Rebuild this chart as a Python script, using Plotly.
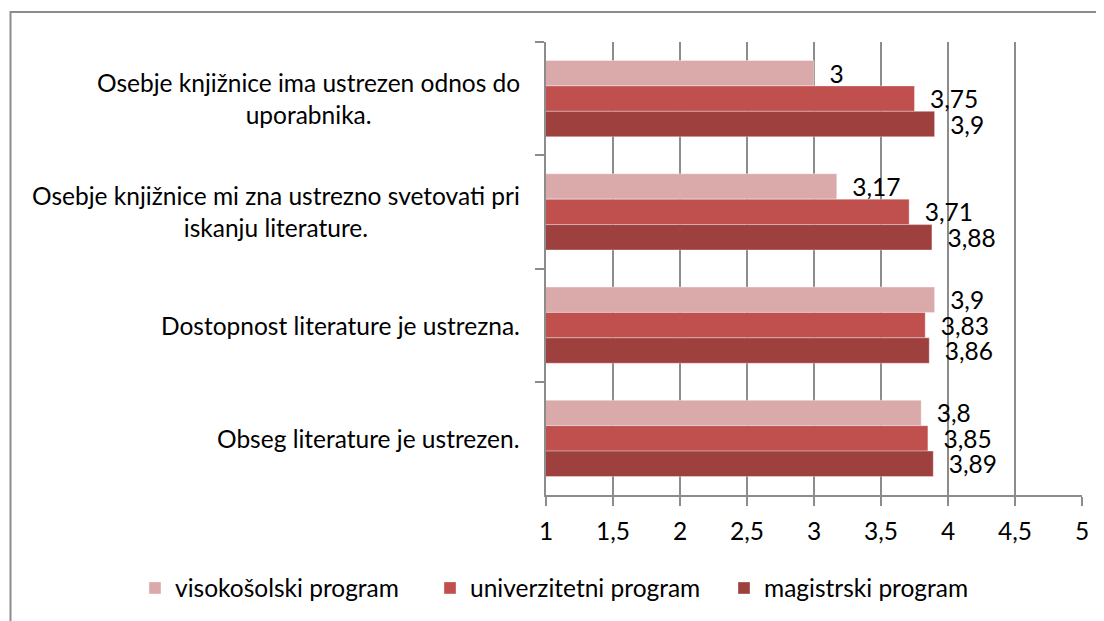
import plotly.graph_objects as go

categories = [
    "Osebje knjižnice ima ustrezen odnos do<br>uporabnika.",
    "Osebje knjižnice mi zna ustrezno svetovati pri<br>iskanju literature.",
    "Dostopnost literature je ustrezna.",
    "Obseg literature je ustrezen.",
]
series_names = ["visokošolski program", "univerzitetni program", "magistrski program"]
visokosolski = [3, 3.17, 3.9, 3.8]
univerzitetni = [3.75, 3.71, 3.83, 3.85]
magistrski = [3.9, 3.88, 3.86, 3.89]
x_ticks = [1, 1.5, 2, 2.5, 3, 3.5, 4, 4.5, 5]

colors = ["#D9AAA9", "#C0504D", "#9D403E"]
FONT = "Lato"
FS = 24.5
GRID = "#8C8C8C"

# page body has an 8px margin: work in page pixels, convert to figure pixels
OFF = 8
W, H = 1104 - OFF, 621 - OFF
PL, PR, PT, PB = 546, 1082, 42, 495  # plot area in page pixels
ML, MT = PL - OFF, PT - OFF
MR, MB = W - (PR - OFF), H - (PB - OFF)
PW, PH = PR - PL, PB - PT


def px_x(p):
    return (p - PL) / PW


def px_y(p):
    return (PB - p) / PH


def fmt(v):
    s = ("%g" % v).replace(".", ",")
    return "\u00a0\u00a0" + s


legend_keys = ["legend", "legend2", "legend3"]
legend_left = [135, 430, 724]

fig = go.Figure()
for name, vals, col, lk in zip(series_names, [visokosolski, univerzitetni, magistrski], colors, legend_keys):
    fig.add_trace(go.Bar(
        y=categories, x=vals, orientation="h", name=name, legend=lk,
        marker=dict(color=col, line=dict(color="rgba(255,255,255,0.35)", width=1)),
        text=[fmt(v) for v in vals], textposition="outside",
        textfont=dict(family=FONT, size=FS, color="black"),
        constraintext="none", cliponaxis=False,
    ))

annotations = []
for c in categories:
    annotations.append(dict(
        xref="paper", yref="y", x=px_x(522), y=c, text=c, showarrow=False,
        xanchor="right", yanchor="middle", align="center",
        font=dict(family=FONT, size=FS, color="black"),
    ))

legends = {}
for lk, lx in zip(legend_keys, legend_left):
    legends[lk] = dict(
        orientation="h", xanchor="left", x=px_x(lx), yanchor="middle", y=px_y(588),
        font=dict(family=FONT, size=FS, color="black"), bgcolor="rgba(0,0,0,0)",
    )

fig.update_layout(
    width=W, height=H,
    margin=dict(l=ML, r=MR, t=MT, b=MB, autoexpand=False),
    paper_bgcolor="white", plot_bgcolor="white",
    separators=",.",
    barmode="group", bargap=0.327, bargroupgap=0,
    font=dict(family=FONT, size=FS, color="black"),
    xaxis=dict(
        range=[1, 5], tickvals=x_ticks, showgrid=True, gridcolor=GRID, gridwidth=1.5,
        showline=True, linecolor=GRID, linewidth=1.5,
        ticks="outside", ticklen=9, tickcolor=GRID, tickwidth=1.5,
        ticklabelstandoff=5, zeroline=False,
        tickfont=dict(family=FONT, size=FS, color="black"),
    ),
    yaxis=dict(
        autorange="reversed", showticklabels=False, showgrid=False,
        showline=True, linecolor=GRID, linewidth=1.5,
        ticks="outside", ticklen=9, tickcolor=GRID, tickwidth=1.5,
        tickson="boundaries",
    ),
    showlegend=True,
    annotations=annotations,
    shapes=[dict(
        type="rect", xref="paper", yref="paper",
        x0=px_x(10.5), x1=px_x(1130), y0=px_y(650), y1=px_y(12),
        line=dict(color=GRID, width=2), fillcolor="rgba(0,0,0,0)", layer="below",
    )],
    **legends,
)

fig.write_html("out.html")
